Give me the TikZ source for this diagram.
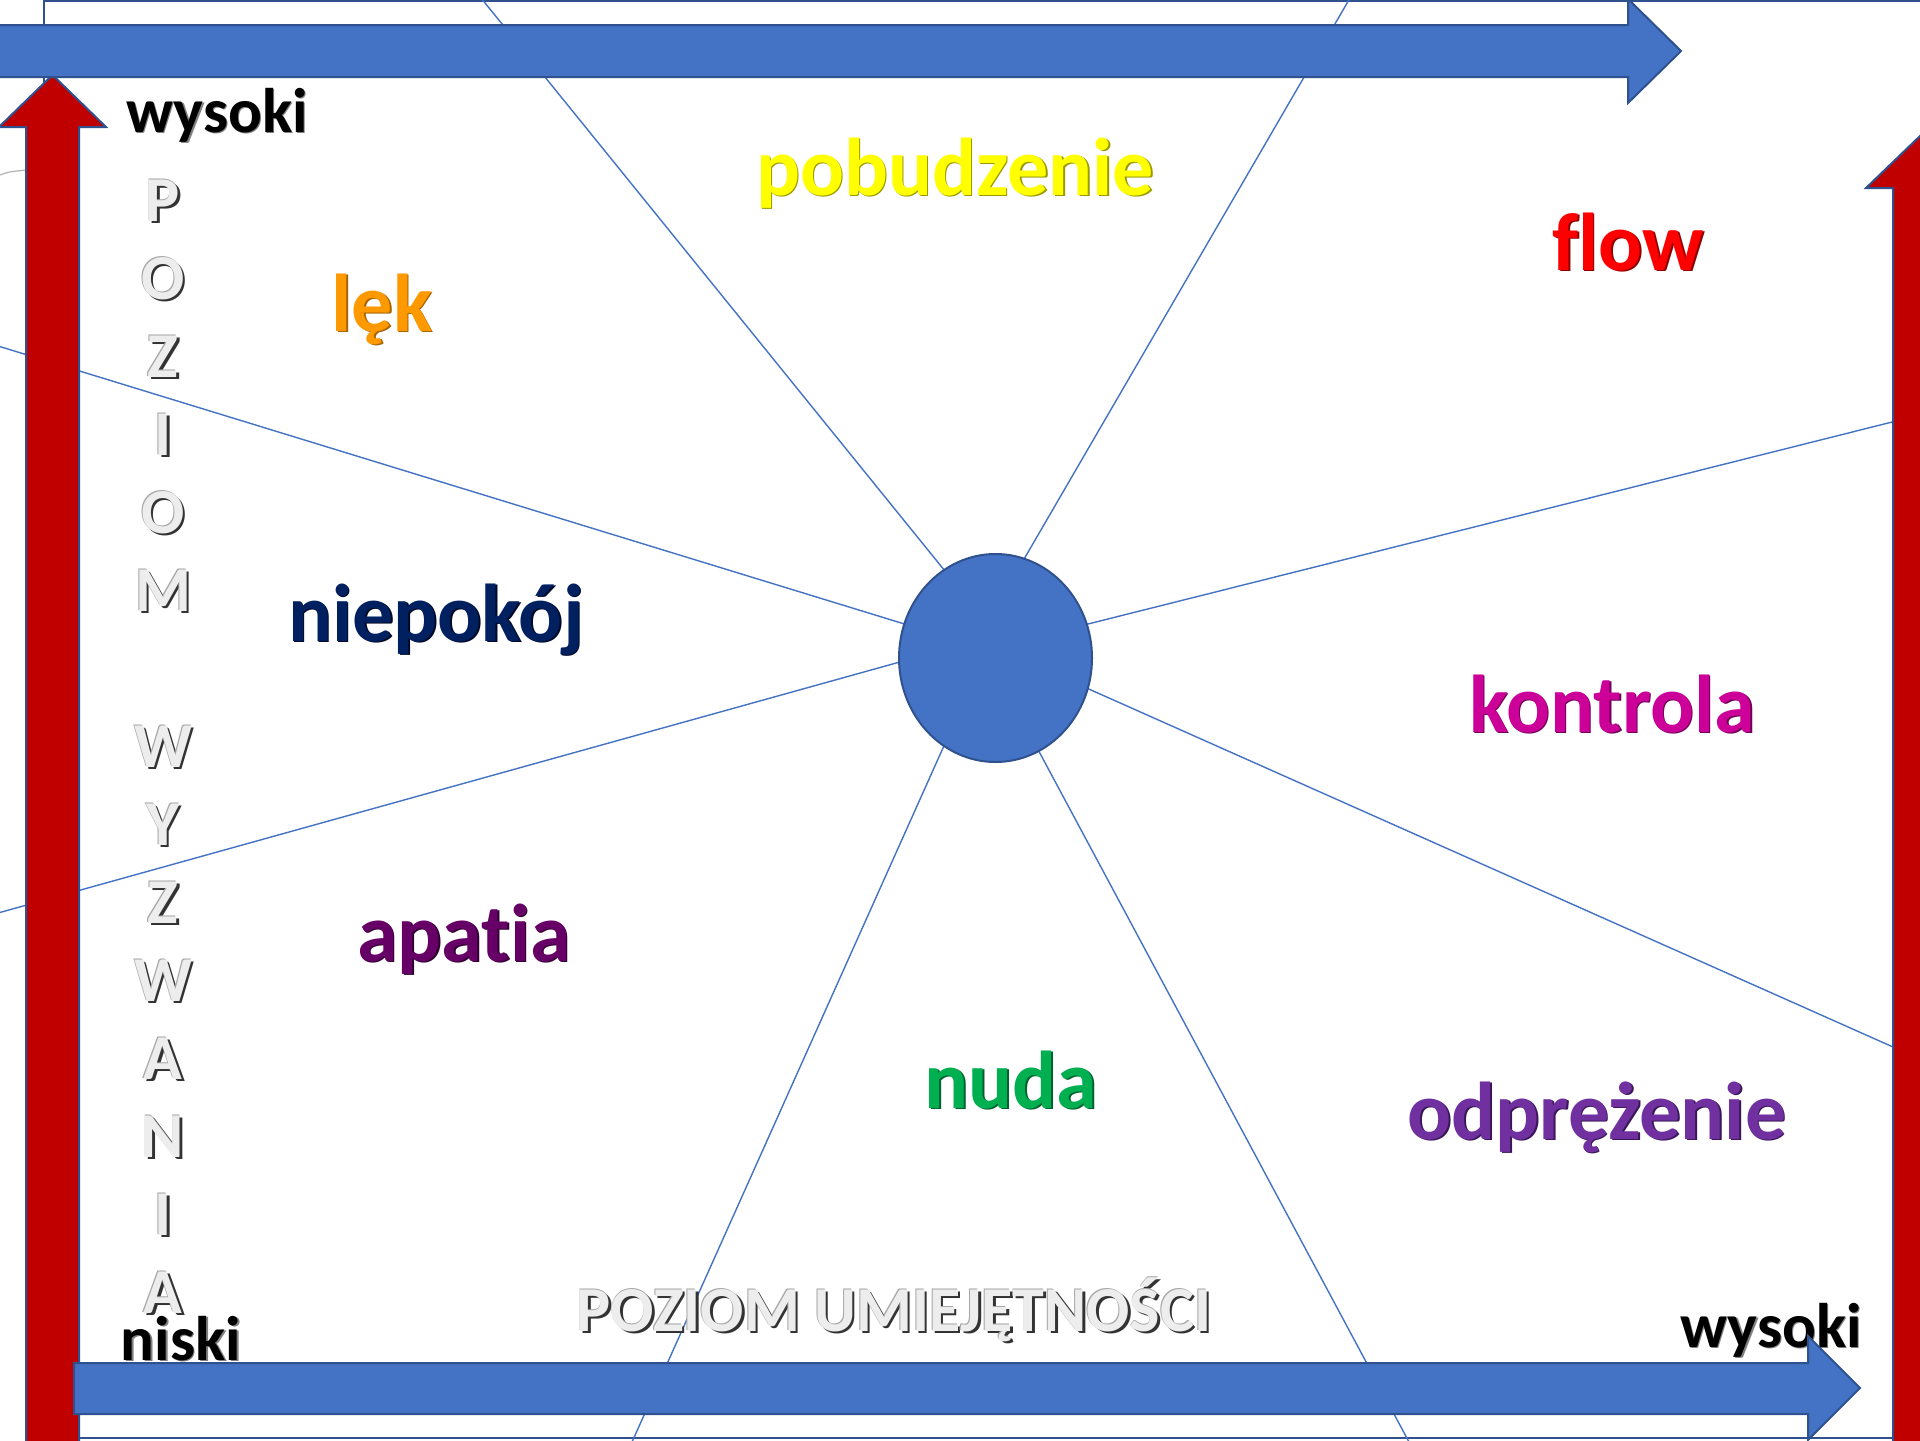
\documentclass[tikz,border=0pt]{standalone}
\usepackage{fontspec}
\setmainfont{Carlito}[Ligatures=CommonOff]
\usetikzlibrary{shapes.geometric}
\definecolor{bfill}{HTML}{4472C4}
\definecolor{bline}{HTML}{2F528F}
\definecolor{rfill}{HTML}{C00000}
\definecolor{cyel}{HTML}{FFFF00}\definecolor{syel}{HTML}{9A9A00}
\definecolor{cora}{HTML}{FF9900}\definecolor{sora}{HTML}{A86400}
\definecolor{cred}{HTML}{FF0000}\definecolor{sred}{HTML}{8F0000}
\definecolor{cnav}{HTML}{002060}\definecolor{snav}{HTML}{000A26}
\definecolor{cmag}{HTML}{CC0099}\definecolor{smag}{HTML}{700054}
\definecolor{capa}{HTML}{660066}\definecolor{sapa}{HTML}{300030}
\definecolor{cgrn}{HTML}{00B050}\definecolor{sgrn}{HTML}{006030}
\definecolor{cpur}{HTML}{7030A0}\definecolor{spur}{HTML}{3A1858}
\definecolor{cgry}{HTML}{EDEDED}\definecolor{sgry}{HTML}{333333}
\tikzset{
  big/.style={font=\bfseries\fontsize{41}{41}\selectfont, inner sep=0pt, anchor=base},
  mid/.style={font=\bfseries\fontsize{31.5}{31.5}\selectfont, inner sep=0pt, anchor=base},
  axis/.style={font=\bfseries\fontsize{32}{32}\selectfont, inner sep=0pt, anchor=base},
  ray/.style={draw=bfill, line width=0.7pt},
  bluearrow/.style={fill=bfill, draw=bline, line width=1pt, line join=miter},
  redarrow/.style={fill=rfill, draw=bline, line width=1pt, line join=miter},
}
\newcommand\mylbl[6]{% style, name, position, colour, shadow colour, text
  \node[#1, text=#5] (#2s) at ([shift={(1.6,1.6)}] #3) {#6};
  \node[#1, text=#4] (#2) at (#3) {#6};
}
\newcommand\mygrey[4]{% style, name, position, text
  \node[#1, text=sgry] (#2s) at ([shift={(2.6,2.6)}] #3) {#4};
  \node[#1, text=gray!70] (#2o) at ([shift={(-0.8,-0.8)}] #3) {#4};
  \node[#1, text=cgry] (#2) at (#3) {#4};
}
\begin{document}
\begin{tikzpicture}[x=0.5pt,y=-0.5pt]
\useasboundingbox (0,0) rectangle (1920,1440);
\fill[white] (0,0) rectangle (1920,1440);
% frame
\draw[bline, line width=0.8pt] (44,1) rectangle (1925,1438);
% small grey arc at left
\draw[gray!60, line width=0.6pt] (0,175) .. controls (8,172) .. (26,170);
% radiating lines
\coordinate (f1) at (481,-2);   \coordinate (n1) at (949,576);
\coordinate (f2) at (1350,-2);  \coordinate (n2) at (1020,566);
\coordinate (f3) at (1920,415); \coordinate (n3) at (1080,626);
\coordinate (f4) at (1920,1059);\coordinate (n4) at (1082,686);
\coordinate (f5) at (1409,1442);\coordinate (n5) at (1035,744);
\coordinate (f6) at (632,1442); \coordinate (n6) at (947,739);
\coordinate (f7) at (-2,913);   \coordinate (n7) at (907,660);
\coordinate (f8) at (-2,346);   \coordinate (n8) at (911,626);
\foreach \i in {1,...,8} { \draw[ray] (f\i) -- (n\i); }
% central circle
\node[ellipse, fill=bfill, draw=bline, line width=1pt, inner sep=0pt,
      minimum width=96.5pt, minimum height=104pt] (c) at (995.5,658) {};
% state labels
\mylbl{big}{pob}{955,195}{cyel}{syel}{pobudzenie}
\mylbl{big}{lek}{382,331}{cora}{sora}{lęk}
\mylbl{big}{flow}{1628,270}{cred}{sred}{flow}
\mylbl{big}{nie}{436,641}{cnav}{snav}{niepokój}
\mylbl{big}{kon}{1612,732}{cmag}{smag}{kontrola}
\mylbl{big}{apa}{464,961}{capa}{sapa}{apatia}
\mylbl{big}{nud}{1011,1108}{cgrn}{sgrn}{nuda}
\mylbl{big}{odp}{1597,1139}{cpur}{spur}{odprężenie}
% axis ends
\mylbl{mid}{wys1}{217,132}{black}{gray}{wysoki}
\mylbl{mid}{nis}{181,1360}{black}{gray}{niski}
\mylbl{mid}{wys2}{1771,1347}{black}{gray}{wysoki}
% vertical axis title
\foreach \ch [count=\i] in {P,O,Z,I,O,M,{},W,Y,Z,W,A,N,I,A} {
  \mygrey{axis}{v\i}{163,{221+78*(\i-1)}}{\ch}
}
% horizontal axis title
\mygrey{axis}{ht}{894,1331}{POZIOM UMIEJĘTNOŚCI}
% arrows
\draw[redarrow] (26,1442) -- (26,127) -- (-1,127) -- (52.5,75) -- (106,127) -- (79,127) -- (79,1442) -- cycle;
\draw[redarrow] (1893,1442) -- (1893,188) -- (1866,188) -- (1920,136) -- (1974,188) -- (1946,188) -- (1946,1442) -- cycle;
\draw[bluearrow] (-2,25) -- (1628,25) -- (1628,-1) -- (1681,51) -- (1628,103) -- (1628,77) -- (-2,77) -- cycle;
\draw[bluearrow] (74,1363) -- (1808,1363) -- (1808,1336) -- (1860,1388) -- (1808,1440) -- (1808,1414) -- (74,1414) -- cycle;
\end{tikzpicture}
\end{document}
